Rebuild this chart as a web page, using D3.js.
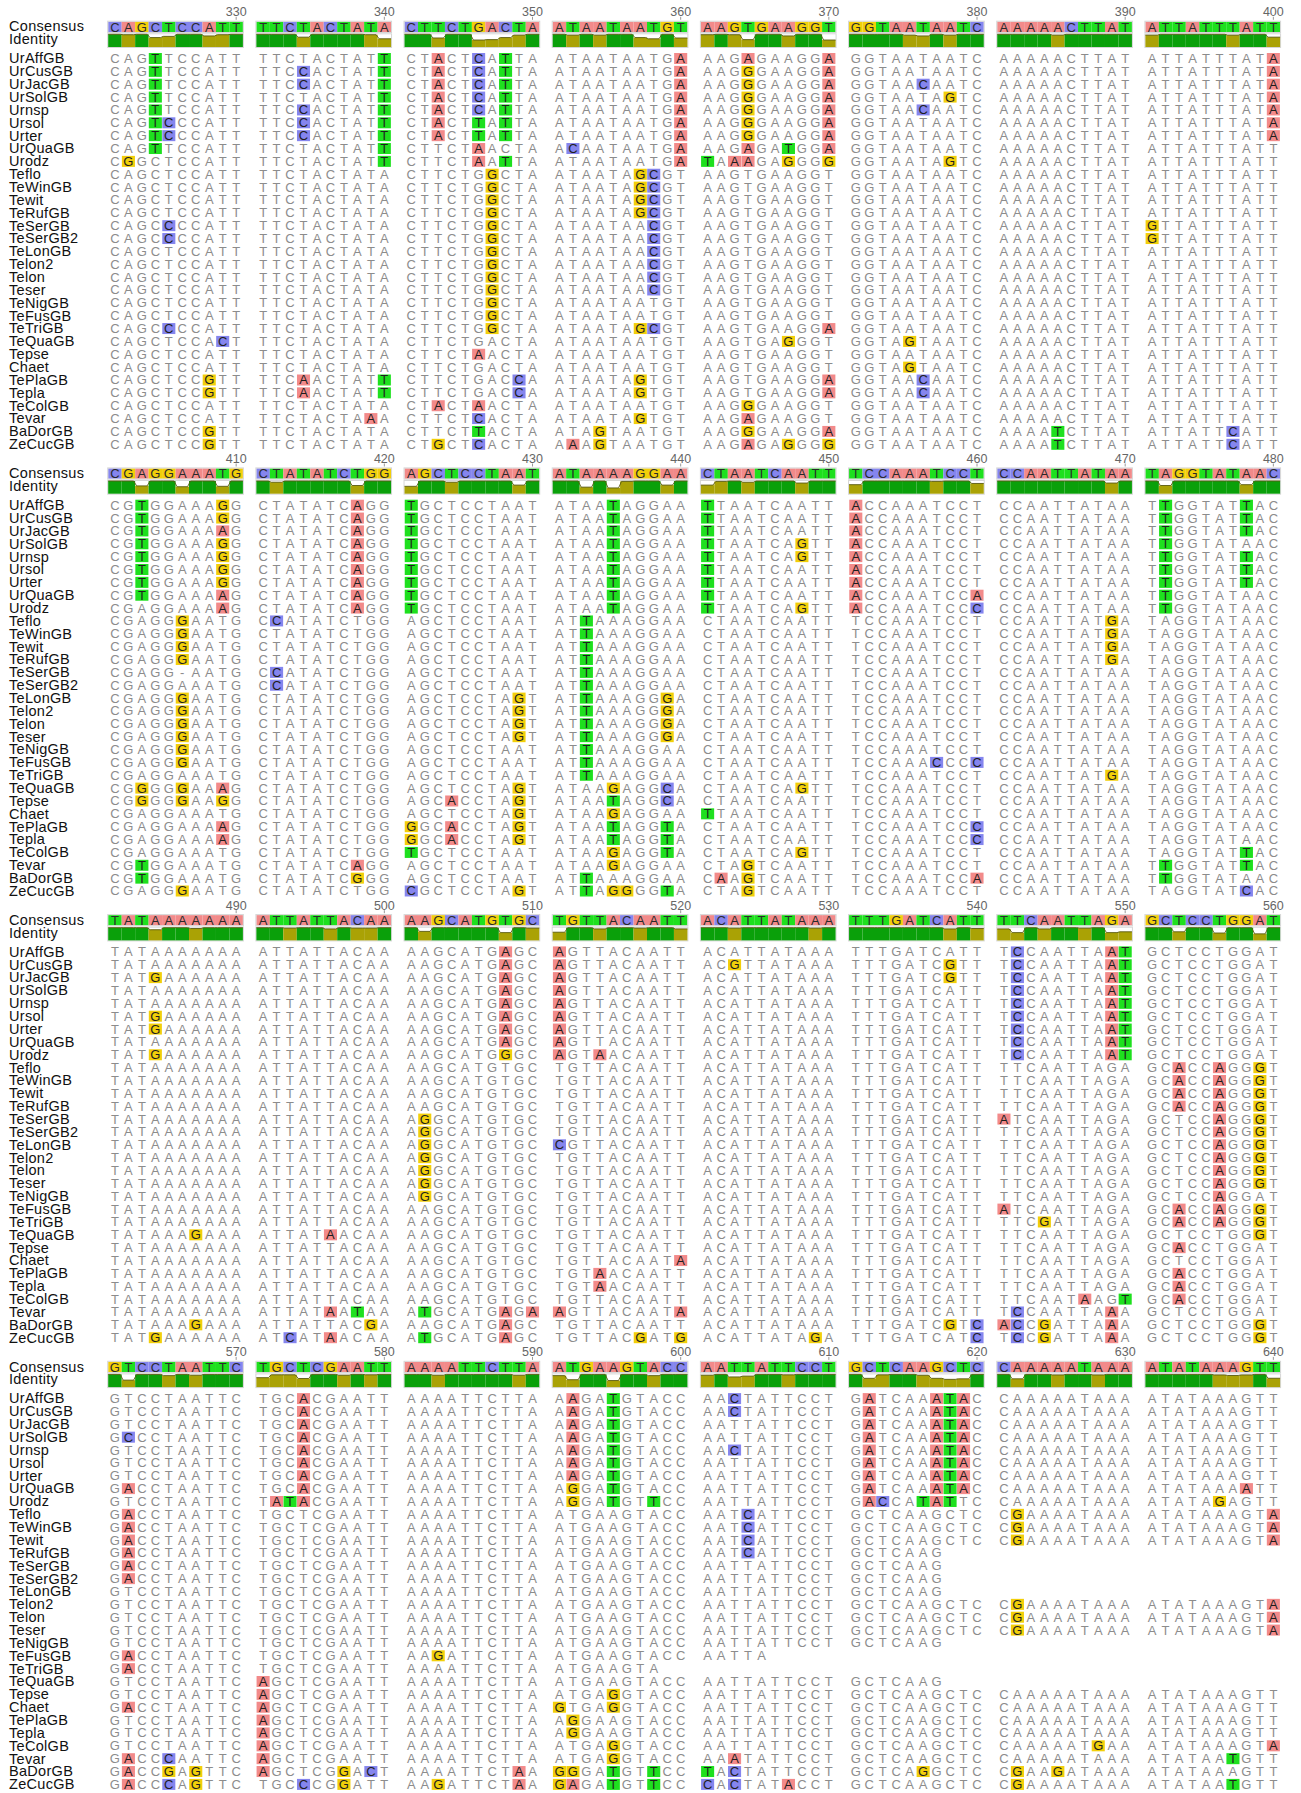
<!DOCTYPE html>
<html>
<head>
<meta charset="utf-8">
<script src="https://cdn.jsdelivr.net/npm/d3@7"></script>
<style>
  body { margin: 0; background: #fff; }
</style>
</head>
<body>
<div id="main"></div>
<script>
"use strict";

// sequence names, top to bottom
const names = ["UrAffGB", "UrCusGB", "UrJacGB", "UrSolGB", "Urnsp", "Ursol", "Urter", "UrQuaGB", "Urodz",
    "Teflo", "TeWinGB", "Tewit", "TeRufGB", "TeSerGB", "TeSerGB2", "TeLonGB", "Telon2", "Telon", "Teser",
    "TeNigGB", "TeFusGB", "TeTriGB", "TeQuaGB", "Tepse", "Chaet", "TePlaGB", "Tepla", "TeColGB", "Tevar",
    "BaDorGB", "ZeCucGB"];

// first alignment position of each block
const blockStarts = [321, 401, 481, 561];

const consensus = [
    "CAGCTCCATT TTCTACTATA CTTCTGACTA ATAATAATGT AAGTGAAGGT GGTAATAATC AAAAACTTAT ATTATTTATT",
    "CGAGGAAATG CTATATCTGG AGCTCCTAAT ATAAAAGGAA CTAATCAATT TCCAAATCCT CCAATTATAA TAGGTATAAC",
    "TATAAAAAAA ATTATTACAA AAGCATGTGC TGTTACAATT ACATTATAAA TTTGATCATT TTCAATTAGA GCTCCTGGAT",
    "GTCCTAATTC TGCTCGAATT AAAATTCTTA ATGAAGTACC AATTATTCCT GCTCAAGCTC CAAAAATAAA ATATAAAGTT"
];

const block1 = [
    "CAGTTCCATT TTCTACTATT CTACTCATTA ATAATAATGA AAGAGAAGGA GGTAATAATC AAAAACTTAT ATTATTTATA",
    "CAGTTCCATT TTCCACTATT CTACTCATTA ATAATAATGA AAGGGAAGGA GGTAATAATC AAAAACTTAT ATTATTTATA",
    "CAGTTCCATT TTCCACTATT CTACTCATTA ATAATAATGA AAGGGAAGGA GGTAACAATC AAAAACTTAT ATTATTTATA",
    "CAGTTCCATT TTCTACTATT CTACTCATTA ATAATAATGA AAGGGAAGGA GGTAATAGTC AAAAACTTAT ATTATTTATA",
    "CAGTTCCATT TTCCACTATT CTACTCATTA ATAATAATGA AAGGGAAGGA GGTAACAATC AAAAACTTAT ATTATTTATA",
    "CAGTCCCATT TTCCACTATT CTACTTATTA ATAATAATGA AAGGGAAGGA GGTAATAATC AAAAACTTAT ATTATTTATA",
    "CAGTCCCATT TTCCACTATT CTACTTATTA ATAATAATGA AAGGGAAGGA GGTAATAATC AAAAACTTAT ATTATTTATA",
    "CAGTTCCATT TTCTACTATT CTTCTAACTA ACAATAATGA AAGAGATGGA GGTAATAATC AAAAACTTAT ATTATTTATT",
    "CGGCTCCATT TTCTACTATT CTTCTAATTA ATAATAATGA TAAAGAGGGG GGTAATAGTC AAAAACTTAT ATTATTTATT",
    "CAGCTCCATT TTCTACTATA CTTCTGGCTA ATAATAGCGT AAGTGAAGGT GGTAATAATC AAAAACTTAT ATTATTTATT",
    "CAGCTCCATT TTCTACTATA CTTCTGGCTA ATAATAGCGT AAGTGAAGGT GGTAATAATC AAAAACTTAT ATTATTTATT",
    "CAGCTCCATT TTCTACTATA CTTCTGGCTA ATAATAGCGT AAGTGAAGGT GGTAATAATC AAAAACTTAT ATTATTTATT",
    "CAGCTCCATT TTCTACTATA CTTCTGGCTA ATAATAGCGT AAGTGAAGGT GGTAATAATC AAAAACTTAT ATTATTTATT",
    "CAGCCCCATT TTCTACTATA CTTCTGGCTA ATAATAACGT AAGTGAAGGT GGTAATAATC AAAAACTTAT GTTATTTATT",
    "CAGCCCCATT TTCTACTATA CTTCTGGCTA ATAATAACGT AAGTGAAGGT GGTAATAATC AAAAACTTAT GTTATTTATT",
    "CAGCTCCATT TTCTACTATA CTTCTGGCTA ATAATAACGT AAGTGAAGGT GGTAATAATC AAAAACTTAT ATTATTTATT",
    "CAGCTCCATT TTCTACTATA CTTCTGGCTA ATAATAACGT AAGTGAAGGT GGTAATAATC AAAAACTTAT ATTATTTATT",
    "CAGCTCCATT TTCTACTATA CTTCTGGCTA ATAATAACGT AAGTGAAGGT GGTAATAATC AAAAACTTAT ATTATTTATT",
    "CAGCTCCATT TTCTACTATA CTTCTGGCTA ATAATAACGT AAGTGAAGGT GGTAATAATC AAAAACTTAT ATTATTTATT",
    "CAGCTCCATT TTCTACTATA CTTCTGGCTA ATAATAATGT AAGTGAAGGT GGTAATAATC AAAAACTTAT ATTATTTATT",
    "CAGCTCCATT TTCTACTATA CTTCTGGCTA ATAATAATGT AAGTGAAGGT GGTAATAATC AAAAACTTAT ATTATTTATT",
    "CAGCCCCATT TTCTACTATA CTTCTGGCTA ATAATAGCGT AAGTGAAGGA GGTAATAATC AAAAACTTAT ATTATTTATT",
    "CAGCTCCACT TTCTACTATA CTTCTGACTA ATAATAATGT AAGTGAGGGT GGTAGTAATC AAAAACTTAT ATTATTTATT",
    "CAGCTCCATT TTCTACTATA CTTCTAACTA ATAATAATGT AAGTGAAGGT GGTAATAATC AAAAACTTAT ATTATTTATT",
    "CAGCTCCATT TTCTACTATA CTTCTGACTA ATAATAATGT AAGTGAAGGT GGTAGTAATC AAAAACTTAT ATTATTTATT",
    "CAGCTCCGTT TTCAACTATT CTTCTGACCA ATAATAGTGT AAGTGAAGGA GGTAACAATC AAAAACTTAT ATTATTTATT",
    "CAGCTCCGTT TTCAACTATT CTTCTGACCA ATAATAGTGT AAGTGAAGGA GGTAACAATC AAAAACTTAT ATTATTTATT",
    "CAGCTCCATT TTCTACTATA CTACTAACTA ATAATAATGT AAGGGAAGGT GGTAATAATC AAAAACTTAT ATTATTTATT",
    "CAGCTCCATT TTCTACTAAA CTTCTCACTA ATAATAGTGT AAGAGAAGGT GGTAATAATC AAAAACTTAT ATTATTTATT",
    "CAGCTCCGTT TTCTACTATA CTTCTTACTA ATAGTAATGT AAGGGAAGGA GGTAATAATC AAAATCTTAT ATTATTCATT",
    "CAGCTCCGTT TTCTACTATA CTGCTCACTA AAAGTAATGT AAGAGAGGGG GGTAATAATC AAAATCTTAT ATTATTCATT"
];

const block2 = [
    "CGTGGAAAGG CTATATCAGG TGCTCCTAAT ATAATAGGAA TTAATCAATT ACCAAATCCT CCAATTATAA TTGGTATTAC",
    "CGTGGAAAGG CTATATCAGG TGCTCCTAAT ATAATAGGAA TTAATCAATT ACCAAATCCT CCAATTATAA TTGGTATTAC",
    "CGTGGAAAAG CTATATCAGG TGCTCCTAAT ATAATAGGAA TTAATCAATT ACCAAATCCT CCAATTATAA TTGGTATTAC",
    "CGTGGAAAGG CTATATCAGG TGCTCCTAAT ATAATAGGAA TTAATCAGTT ACCAAATCCT CCAATTATAA TTGGTATAAC",
    "CGTGGAAAGG CTATATCAGG TGCTCCTAAT ATAATAGGAA TTAATCAGTT ACCAAATCCT CCAATTATAA TTGGTATTAC",
    "CGTGGAAAGG CTATATCAGG TGCTCCTAAT ATAATAGGAA TTAATCAATT ACCAAATCCT CCAATTATAA TTGGTATTAC",
    "CGTGGAAAGG CTATATCAGG TGCTCCTAAT ATAATAGGAA TTAATCAATT ACCAAATCCT CCAATTATAA TTGGTATTAC",
    "CGTGGAAAAG CTATATCAGG TGCTCCTAAT ATAATAGGAA TTAATCAATT ACCAAATCCA CCAATTATAA TTGGTATAAC",
    "CGAGGAAAAG CTATATCAGG TGCTCCTAAT ATAATAGGAA TTAATCAGTT ACCAAATCCC CCAATTATAA TTGGTATAAC",
    "CGAGGGAATG CCATATCTGG AGCTCCTAAT ATTAAAGGAA CTAATCAATT TCCAAATCCT CCAATTATGA TAGGTATAAC",
    "CGAGGGAATG CTATATCTGG AGCTCCTAAT ATTAAAGGAA CTAATCAATT TCCAAATCCT CCAATTATGA TAGGTATAAC",
    "CGAGGGAATG CTATATCTGG AGCTCCTAAT ATTAAAGGAA CTAATCAATT TCCAAATCCT CCAATTATGA TAGGTATAAC",
    "CGAGGGAATG CTATATCTGG AGCTCCTAAT ATTAAAGGAA CTAATCAATT TCCAAATCCT CCAATTATGA TAGGTATAAC",
    "CGAGG-AATG CCATATCTGG AGCTCCTAAT ATTAAAGGAA CTAATCAATT TCCAAATCCT CCAATTATAA TAGGTATAAC",
    "CGAGGAAATG CCATATCTGG AGCTCCTAAT ATTAAAGGAA CTAATCAATT TCCAAATCCT CCAATTATAA TAGGTATAAC",
    "CGAGGGAATG CTATATCTGG AGCTCCTAGT ATTAAAGGGA CTAATCAATT TCCAAATCCT CCAATTATAA TAGGTATAAC",
    "CGAGGGAATG CTATATCTGG AGCTCCTAGT ATTAAAGGGA CTAATCAATT TCCAAATCCT CCAATTATAA TAGGTATAAC",
    "CGAGGGAATG CTATATCTGG AGCTCCTAGT ATTAAAGGGA CTAATCAATT TCCAAATCCT CCAATTATAA TAGGTATAAC",
    "CGAGGGAATG CTATATCTGG AGCTCCTAGT ATTAAAGGGA CTAATCAATT TCCAAATCCT CCAATTATAA TAGGTATAAC",
    "CGAGGGAATG CTATATCTGG AGCTCCTAAT ATTAAAGGAA CTAATCAATT TCCAAATCCT CCAATTATAA TAGGTATAAC",
    "CGAGGGAATG CTATATCTGG AGCTCCTAAT ATTAAAGGAA CTAATCAATT TCCAAACCCC CCAATTATAA TAGGTATAAC",
    "CGAGGAAATG CTATATCTGG AGCTCCTAAT ATTAAAGGAA CTAATCAATT TCCAAATCCT CCAATTATGA TAGGTATAAC",
    "CGGGGGAAAG CTATATCTGG AGCTCCTAGT ATAAGAGGCA CTAATCAGTT TCCAAATCCT CCAATTATAA TAGGTATAAC",
    "CGGGGGAAGG CTATATCTGG AGCACCTAGT ATAATAGGCA CTAATCAATT TCCAAATCCT CCAATTATAA TAGGTATAAC",
    "CGAGGAAATG CTATATCTGG AGCTCCTAGT ATAAGAGGAA TTAATCAATT TCCAAATCCT CCAATTATAA TAGGTATAAC",
    "CGAGGAAAAG CTATATCTGG GGCACCTAGT ATAATAGGTA CTAATCAATT TCCAAATCCC CCAATTATAA TAGGTATAAC",
    "CGAGGAAAAG CTATATCTGG GGCACCTAGT ATAATAGGTA CTAATCAATT TCCAAATCCC CCAATTATAA TAGGTATAAC",
    "CGAGGAAATG CTATATCTGG TGCTCCTAAT ATAAGAGGTA CTAATCAGTT TCCAAATCCT CCAATTATAA TAGGTATTAC",
    "CGTGGAAATG CTATATCAGG AGCTCCTAAT ATAAGAGGAA CTAGTCAATT TCCAAATCCT CCAATTATAA TTGGTATTAC",
    "CGTGGAAATG CTATATCGGG AGCTCCTAAT ATTAAAGGAA CAAGTCAATT TCCAAATCCA CCAATTATAA TTGGTATAAC",
    "CGAGGGAATG CTATATCTGG CGCTCCTAGT ATTAGGGGTA CTAGTCAATT TCCAAATCCT CCAATTATAA TAGGTATCAC"
];

const block3 = [
    "TATAAAAAAA ATTATTACAA AAGCATGAGC AGTTACAATT ACATTATAAA TTTGATCATT TCCAATTAAT GCTCCTGGAT",
    "TATAAAAAAA ATTATTACAA AAGCATGAGC AGTTACAATT ACGTTATAAA TTTGATCGTT TCCAATTAAT GCTCCTGGAT",
    "TATGAAAAAA ATTATTACAA AAGCATGAGC AGTTACAATT ACATTATAAA TTTGATCGTT TCCAATTAAT GCTCCTGGAT",
    "TATAAAAAAA ATTATTACAA AAGCATGAGC AGTTACAATT ACATTATAAA TTTGATCATT TCCAATTAAT GCTCCTGGAT",
    "TATAAAAAAA ATTATTACAA AAGCATGAGC AGTTACAATT ACATTATAAA TTTGATCATT TCCAATTAAT GCTCCTGGAT",
    "TATGAAAAAA ATTATTACAA AAGCATGAGC AGTTACAATT ACATTATAAA TTTGATCATT TCCAATTAAT GCTCCTGGAT",
    "TATGAAAAAA ATTATTACAA AAGCATGAGC AGTTACAATT ACATTATAAA TTTGATCATT TCCAATTAAT GCTCCTGGAT",
    "TATAAAAAAA ATTATTACAA AAGCATGAGC AGTTACAATT ACATTATAAA TTTGATCATT TCCAATTAAT GCTCCTGGAT",
    "TATGAAAAAA ATTATTACAA AAGCATGGGC AGTAACAATT ACATTATAAA TTTGATCATT TCCAATTAAT GCTCCTGGAT",
    "TATAAAAAAA ATTATTACAA AAGCATGTGC TGTTACAATT ACATTATAAA TTTGATCATT TTCAATTAGA GCACCAGGGT",
    "TATAAAAAAA ATTATTACAA AAGCATGTGC TGTTACAATT ACATTATAAA TTTGATCATT TTCAATTAGA GCACCAGGGT",
    "TATAAAAAAA ATTATTACAA AAGCATGTGC TGTTACAATT ACATTATAAA TTTGATCATT TTCAATTAGA GCACCAGGGT",
    "TATAAAAAAA ATTATTACAA AAGCATGTGC TGTTACAATT ACATTATAAA TTTGATCATT TTCAATTAGA GCACCAGGGT",
    "TATAAAAAAA ATTATTACAA AGGCATGTGC TGTTACAATT ACATTATAAA TTTGATCATT ATCAATTAGA GCTCCAGGGT",
    "TATAAAAAAA ATTATTACAA AGGCATGTGC TGTTACAATT ACATTATAAA TTTGATCATT TTCAATTAGA GCTCCAGGGT",
    "TATAAAAAAA ATTATTACAA AGGCATGTGC CGTTACAATT ACATTATAAA TTTGATCATT TTCAATTAGA GCTCCAGGGT",
    "TATAAAAAAA ATTATTACAA AGGCATGTGC TGTTACAATT ACATTATAAA TTTGATCATT TTCAATTAGA GCTCCAGGGT",
    "TATAAAAAAA ATTATTACAA AGGCATGTGC TGTTACAATT ACATTATAAA TTTGATCATT TTCAATTAGA GCTCCAGGGT",
    "TATAAAAAAA ATTATTACAA AGGCATGTGC TGTTACAATT ACATTATAAA TTTGATCATT TTCAATTAGA GCTCCAGGGT",
    "TATAAAAAAA ATTATTACAA AGGCATGTGC TGTTACAATT ACATTATAAA TTTGATCATT TTCAATTAGA GCTCCAGGAT",
    "TATAAAAAAA ATTATTACAA AAGCATGTGC TGTTACAATT ACATTATAAA TTTGATCATT ATCAATTAGA GCACCAGGGT",
    "TATAAAAAAA ATTATTACAA AAGCATGTGC TGTTACAATT ACATTATAAA TTTGATCATT TTCGATTAGA GCACCAGGGT",
    "TATAAAGAAA ATTATAACAA AAGCATGTGC TGTTACAATT ACATTATAAA TTTGATCATT TTCAATTAGA GCTCCTGGGT",
    "TATAAAAAAA ATTATTACAA AAGCATGTGC TGTTACAATT ACATTATAAA TTTGATCATT TTCAATTAGA GCACCTGGAT",
    "TATAAAAAAA ATTATTACAA AAGCATGTGC TGTTACAATA ACATTATAAA TTTGATCATT TTCAATTAGA GCTCCTGGAT",
    "TATAAAAAAA ATTATTACAA AAGCATGTGC TGTAACAATT ACATTATAAA TTTGATCATT TTCAATTAGA GCACCTGGAT",
    "TATAAAAAAA ATTATTACAA AAGCATGTGC TGTAACAATT ACATTATAAA TTTGATCATT TTCAATTAGA GCACCTGGAT",
    "TATAAAAAAA ATTATTACAA AAGCATGTGC TGTTACAATT ACATTATAAA TTTGATCATT TTCAATAAGT GCACCTGGAT",
    "TATAAAAAAA ATTATAATAA ATGCATGAGA AGTTACAATA ACATTATAAA TTTGATCATT TCCAATTAAA GCTCCTGGAT",
    "TATAAAGAAA ATTATTACGA AAGCATGAGC TGTTACAATT ACATTATAAA TTTGATCGTC ACCGATTAAA GCTCCTGGGT",
    "TATGAAAAAA ATCATAACAA ATGCATGAGC TGTTACGATG ACATTATAGA TTTGATCATC TCCGATTAAA GCTCCTGGGT"
];

// "." = no sequence at that position
const block4 = [
    "GTCCTAATTC TGCACGAATT AAAATTCTTA AAGATGTACC AACTATTCCT GATCAAATAC CAAAAATAAA ATATAAAGTT",
    "GTCCTAATTC TGCACGAATT AAAATTCTTA AAGATGTACC AACTATTCCT GATCAAATAC CAAAAATAAA ATATAAAGTT",
    "GTCCTAATTC TGCACGAATT AAAATTCTTA AAGATGTACC AATTATTCCT GATCAAATAC CAAAAATAAA ATATAAAGTT",
    "GCCCTAATTC TGCACGAATT AAAATTCTTA AAGATGTACC AATTATTCCT GATCAAATAC CAAAAATAAA ATATAAAGTT",
    "GTCCTAATTC TGCACGAATT AAAATTCTTA AAGATGTACC AACTATTCCT GATCAAATAC CAAAAATAAA ATATAAAGTT",
    "GTCCTAATTC TGCACGAATT AAAATTCTTA AAGATGTACC AATTATTCCT GATCAAATAC CAAAAATAAA ATATAAAGTT",
    "GTCCTAATTC TGCACGAATT AAAATTCTTA AAGATGTACC AATTATTCCT GATCAAATAC CAAAAATAAA ATATAAAGTT",
    "GACCTAATTC TGCACGAATT AAAATTCTTA AGGATGTACC AATTATTCCT GATCAAATAC CAAAAATAAA ATATAAAATT",
    "GTCCTAATTC TATACGAATT AAAATTCTTA AGGATGTTCC AATTATTCCT GACCATATTC CAAAAATAAA ATATAGAGTT",
    "GACCTAATTC TGCTCGAATT AAAATTCTTA ATGAAGTACC AATCATTCCT GCTCAAGCTC CGAAAATAAA ATATAAAGTA",
    "GACCTAATTC TGCTCGAATT AAAATTCTTA ATGAAGTACC AATCATTCCT GCTCAAGCTC CGAAAATAAA ATATAAAGTA",
    "GACCTAATTC TGCTCGAATT AAAATTCTTA ATGAAGTACC AATCATTCCT GCTCAAGCTC CGAAAATAAA ATATAAAGTA",
    "GACCTAATTC TGCTCGAATT AAAATTCTTA ATGAAGTACC AATCATTCCT GCTCAAG",
    "GACCTAATTC TGCTCGAATT AAAATTCTTA ATGAAGTACC AATTATTCCT GCTCAAG",
    "GACCTAATTC TGCTCGAATT AAAATTCTTA ATGAAGTACC AATTATTCCT GCTCAAG",
    "GTCCTAATTC TGCTCGAATT AAAATTCTTA ATGAAGTACC AATTATTCCT GCTCAAG",
    "GTCCTAATTC TGCTCGAATT AAAATTCTTA ATGAAGTACC AATTATTCCT GCTCAAGCTC CGAAAATAAA ATATAAAGTA",
    "GTCCTAATTC TGCTCGAATT AAAATTCTTA ATGAAGTACC AATTATTCCT GCTCAAGCTC CGAAAATAAA ATATAAAGTA",
    "GTCCTAATTC TGCTCGAATT AAAATTCTTA ATGAAGTACC AATTATTCCT GCTCAAGCTC CGAAAATAAA ATATAAAGTA",
    "GTCCTAATTC TGCTCGAATT AAAATTCTTA ATGAAGTACC AATTATTCCT GCTCAAG",
    "GACCTAATTC TGCTCGAATT AAGATTCTTA ATGAAGTACC AATTA",
    "GACCTAATTC TGCTCGAATT AAAATTCTTA ATGAAGTA",
    "GTCCTAATTC AGCTCGAATT AAAATTCTTA ATGAAGTACC AATTATTCCT GCTCAAG",
    "GTCCTAATTC AGCTCGAATT AAAATTCTTA ATGAGGTACC AATTATTCCT GCTCAAGCTC CAAAAATAAA ATATAAAGTT",
    "GACCTAATTC AGCTCGAATT AAAATTCTTA GTGAGGTACC AATTATTCCT GCTCAAGCTC CAAAAATAAA ATATAAAGTT",
    "GTCCTAATTC AGCTCGAATT AAAATTCTTA AGGAAGTACC AATTATTCCT GCTCAAGCTC CAAAAATAAA ATATAAAGTT",
    "GTCCTAATTC AGCTCGAATT AAAATTCTTA AGGAAGTACC AATTATTCCT GCTCAAGCTC CAAAAATAAA ATATAAAGTT",
    "GTCCTAATTC AGCTCGAATT AAAATTCTTA ATGAGGTACC AATTATTCCT GCTCAAGCTC CAAAAATGAA ATATAAAGTA",
    "GACCCAATTC AGCTCGAATT AAAATTCTTA ATGAGGTACC AAATATTCCT GCTCAAGCTC CAAAAATAAA ATATAATGTT",
    "GACCGAGTTC AGCTCGGACT AAAATTCTAA GGGATGTTCC TACTATTCCT GCTCAGGCTC CGAAGATAAA ATATAAAGTT",
    "GACCCAGTTC TGCCCGGATT AAGATTCTAA GAGATGTTCC CACTATACCT GCTCAAGCTC CGAAAATAAA ATATAATGTT"
];

const blocks = [block1, block2, block3, block4];

const bases = ["A", "C", "G", "T"];
const baseColors = ["#f28a8a", "#8585ee", "#f2cf0a", "#1ee01e"];

function parseRow(s) {
    const chars = s.replace(/ /g, "").split("");
    while (chars.length < 80) chars.push(".");
    return chars;
}

function main() {
    const width = 1301, height = 1793;
    const colW = 13.47;
    const blockH = 446.7;
    const row0 = 58.3, rowH = 12.86;

    const svg = d3.select("#main").append("svg")
        .attr("width", width)
        .attr("height", height)
        .style("display", "block");
    svg.append("rect").attr("width", width).attr("height", height).attr("fill", "#fff");

    // horizontal: 80 columns per block, one blank slot after every 10
    const x = d3.scaleLinear().domain([0, 88]).range([108.2, 108.2 + 88 * colW]);
    const slot = i => i + Math.floor(i / 10);
    const colX = i => x(slot(i));
    const y = d3.scaleLinear().domain([0, 30]).range([row0, row0 + 30 * rowH]);
    const color = d3.scaleOrdinal().domain(bases).range(baseColors);
    const ident = d3.scaleLinear().domain([0, 1]).range([0, 12.7]);

    const font = "'Liberation Sans', Arial, sans-serif";
    const labelSize = 14.5;

    blocks.forEach((rows, b) => {
        const g = svg.append("g").attr("transform", `translate(0,${b * blockH})`);
        const cons = parseRow(consensus[b]);
        const seqs = rows.map(parseRow);
        const consTop = row0 - 36.6, consH = 10.3;
        const idTop = row0 - 24, idH = 12.7;

        // row labels
        g.append("text").attr("x", 9).attr("y", consTop + consH / 2 - 0.5).attr("dy", "0.35em")
            .attr("font-family", font).attr("font-size", labelSize).attr("letter-spacing", 0.3)
            .attr("fill", "#111").text("Consensus");
        g.append("text").attr("x", 9).attr("y", idTop + idH / 2 - 1.5).attr("dy", "0.35em")
            .attr("font-family", font).attr("font-size", labelSize).attr("letter-spacing", 0.3)
            .attr("fill", "#111").text("Identity");
        g.selectAll("text.name").data(names).join("text")
            .attr("class", "name")
            .attr("x", 9)
            .attr("y", (d, i) => y(i))
            .attr("dy", "0.35em")
            .attr("font-family", font).attr("font-size", labelSize).attr("letter-spacing", 0.3)
            .attr("fill", "#111")
            .text(d => d);

        // position numbers over every tenth column
        const ticks = d3.range(9, 80, 10);
        g.selectAll("text.pos").data(ticks).join("text")
            .attr("class", "pos")
            .attr("x", i => colX(i) + colW / 2)
            .attr("y", row0 - 46.3)
            .attr("dy", "0.35em")
            .attr("text-anchor", "middle")
            .attr("font-family", font).attr("font-size", 12.5).attr("fill", "#666")
            .text(i => blockStarts[b] + i);
        g.selectAll("line.tick").data(ticks).join("line")
            .attr("class", "tick")
            .attr("x1", i => colX(i) + colW / 2).attr("x2", i => colX(i) + colW / 2)
            .attr("y1", row0 - 41.5).attr("y2", row0 - 38.5)
            .attr("stroke", "#999").attr("stroke-width", 1);

        // consensus
        const consCols = cons.map((c, i) => ({ c, i }));
        g.selectAll("rect.cons").data(consCols).join("rect")
            .attr("class", "cons")
            .attr("x", d => colX(d.i)).attr("y", consTop)
            .attr("width", colW).attr("height", consH)
            .attr("fill", d => color(d.c));
        g.selectAll("rect.consbox").data(d3.range(8)).join("rect")
            .attr("class", "consbox")
            .attr("x", k => colX(k * 10) - 0.5).attr("y", consTop - 0.5)
            .attr("width", colW * 10 + 1).attr("height", consH + 1)
            .attr("fill", "none").attr("stroke", "#d6d6d6");
        g.selectAll("text.cons").data(consCols).join("text")
            .attr("class", "cons")
            .attr("x", d => colX(d.i) + colW / 2).attr("y", consTop + consH / 2 + 0.3)
            .attr("dy", "0.35em").attr("text-anchor", "middle")
            .attr("font-family", font).attr("font-size", 13).attr("fill", "#2a2a2a")
            .text(d => d.c);

        // identity
        const idCols = cons.map((c, i) => {
            const present = seqs.filter(s => s[i] !== ".");
            const same = present.filter(s => s[i] === c).length;
            return { i, frac: present.length ? same / present.length : 1 };
        });
        g.selectAll("rect.idbox").data(d3.range(8)).join("rect")
            .attr("class", "idbox")
            .attr("x", k => colX(k * 10) - 0.5).attr("y", idTop - 0.5)
            .attr("width", colW * 10 + 1).attr("height", idH + 1)
            .attr("fill", "#fff").attr("stroke", "#d6d6d6");
        g.selectAll("rect.id").data(idCols).join("rect")
            .attr("class", "id")
            .attr("x", d => colX(d.i)).attr("y", d => idTop + idH - ident(d.frac))
            .attr("width", colW).attr("height", d => ident(d.frac))
            .attr("fill", d => d.frac === 1 ? "#0aa00a" : "#aaa205");
        const idLine = d3.line().x(p => p[0]).y(p => p[1]);
        d3.range(8).forEach(k => {
            const pts = [];
            idCols.slice(k * 10, k * 10 + 10).forEach(d => {
                const top = idTop + idH - ident(d.frac);
                pts.push([colX(d.i) + 1.5, top], [colX(d.i) + colW - 1.5, top]);
            });
            pts[0][0] = colX(k * 10);
            pts[pts.length - 1][0] = colX(k * 10 + 9) + colW;
            g.append("path").attr("d", idLine(pts))
                .attr("fill", "none").attr("stroke", "#5a5a10").attr("stroke-width", 0.9);
        });

        // sequences
        const cells = [];
        seqs.forEach((s, r) => s.forEach((c, i) => {
            if (c !== ".") cells.push({ r, i, c, diff: c !== cons[i] && c !== "-" });
        }));
        g.selectAll("rect.hl").data(cells.filter(d => d.diff)).join("rect")
            .attr("class", "hl")
            .attr("x", d => colX(d.i) + 0.2).attr("y", d => y(d.r) - 5.3)
            .attr("width", colW - 0.4).attr("height", 11)
            .attr("fill", d => color(d.c));
        g.selectAll("text.base").data(cells).join("text")
            .attr("class", "base")
            .attr("x", d => colX(d.i) + colW / 2).attr("y", d => y(d.r))
            .attr("dy", "0.36em").attr("text-anchor", "middle")
            .attr("font-family", font).attr("font-size", 13)
            .attr("fill", d => d.diff ? "#1e1e1e" : "#8c8c8c")
            .text(d => d.c);
    });
}

main();
</script>
</body>
</html>
